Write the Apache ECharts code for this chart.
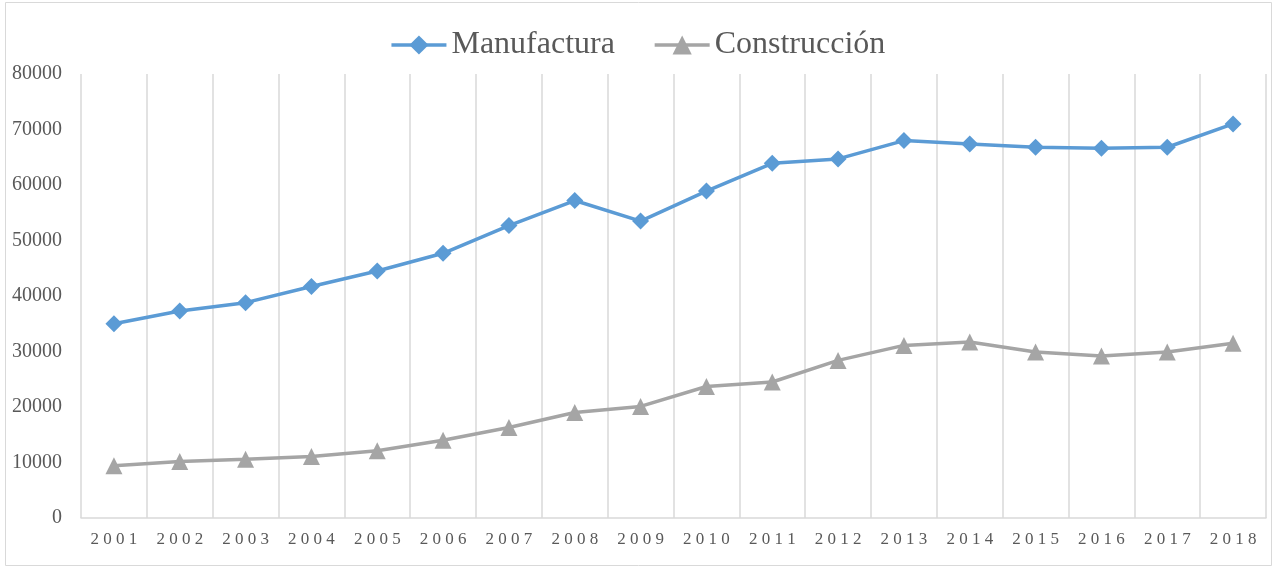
<!DOCTYPE html>
<html>
<head>
<meta charset="utf-8">
<title>Manufactura y Construcción</title>
<script src="https://cdn.jsdelivr.net/npm/echarts@6/dist/echarts.min.js"></script>
<style>
  html, body { margin: 0; padding: 0; background: #fff; }
  #chart { width: 1275px; height: 568px; }
</style>
</head>
<body>
<div id="chart"></div>
<script>
// años (eje X)
const years = ['2001', '2002', '2003', '2004', '2005', '2006', '2007', '2008', '2009',
  '2010', '2011', '2012', '2013', '2014', '2015', '2016', '2017', '2018']
// series
const manufactura = [35000, 37300, 38800, 41700, 44500, 47700, 52700, 57200, 53500,
  58900, 63900, 64700, 68000, 67400, 66800, 66600, 66800, 71000]
const construccion = [9400, 10200, 10600, 11100, 12100, 14000, 16300, 19000, 20100,
  23700, 24500, 28400, 31100, 31700, 29900, 29200, 29900, 31500]
const seriesNames = ['Manufactura', 'Construcción']

const serifFont = '"Liberation Serif", "DejaVu Serif", serif'
const gridColor = '#d9d9d9'
const textColor = '#595959'

const chart = echarts.init(document.getElementById('chart'))

chart.setOption({
  animation: false,
  backgroundColor: '#fff',
  graphic: [{
    type: 'rect',
    shape: { x: 5.5, y: 2.5, width: 1266, height: 563 },
    style: { fill: 'none', stroke: gridColor, lineWidth: 1 },
    silent: true,
  }],
  legend: {
    top: 24,
    left: 'center',
    itemWidth: 55,
    itemHeight: 24,
    itemGap: 38,
    data: seriesNames,
    lineStyle: { width: 3.5 },
    textStyle: { fontFamily: serifFont, fontSize: 32, color: textColor },
  },
  grid: { left: 81, right: 9, top: 74, bottom: 50, containLabel: false },
  xAxis: {
    type: 'category',
    boundaryGap: true,
    data: years,
    axisLine: { lineStyle: { color: gridColor, width: 1.5 } },
    axisTick: { show: false },
    splitLine: { show: true, lineStyle: { color: gridColor, width: 1.5 } },
    axisLabel: {
      margin: 13,
      fontFamily: serifFont,
      fontSize: 17,
      color: textColor,
      // separar los dígitos como en el original
      formatter: (v) => v.split('').join(' '),
    },
  },
  yAxis: {
    type: 'value',
    min: 0,
    max: 80000,
    interval: 10000,
    axisLine: { show: false },
    axisTick: { show: false },
    splitLine: { show: false },
    axisLabel: {
      margin: 19,
      fontFamily: serifFont,
      fontSize: 20,
      color: textColor,
      formatter: (v) => String(v),
    },
  },
  series: [
    {
      name: seriesNames[0],
      type: 'line',
      data: manufactura,
      symbol: 'diamond',
      symbolSize: 17,
      itemStyle: { color: '#5b9bd5' },
      lineStyle: { color: '#5b9bd5', width: 3.5 },
    },
    {
      name: seriesNames[1],
      type: 'line',
      data: construccion,
      symbol: 'triangle',
      symbolSize: 17,
      itemStyle: { color: '#a5a5a5' },
      lineStyle: { color: '#a5a5a5', width: 3.5 },
    },
  ],
})
</script>
</body>
</html>
